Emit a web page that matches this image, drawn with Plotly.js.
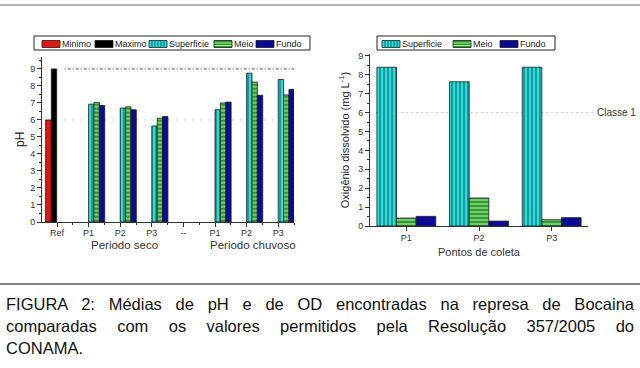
<!DOCTYPE html>
<html>
<head>
<meta charset="utf-8">
<script src="https://cdn.plot.ly/plotly-3.0.1.min.js"></script>
<style>
  html, body { margin: 0; padding: 0; background: #fff; }
  #wrap { position: relative; width: 640px; height: 368px; overflow: hidden; }
  #chart { position: absolute; left: 0; top: 0; width: 640px; height: 368px; }
  .cap { position: absolute; left: 6px; width: 628px;
         font-family: "Liberation Sans", Arial, sans-serif; font-size: 16.5px; line-height: 20px; color: #111; white-space: nowrap; }
  .just { text-align: justify; text-align-last: justify; white-space: normal; }
</style>
</head>
<body>
<div id="wrap">
  <div id="chart"></div>
  <div class="cap just" style="top:294px;">FIGURA 2: Médias de pH e de OD encontradas na represa de Bocaina</div>
  <div class="cap just" style="top:316px;">comparadas com os valores permitidos pela Resolução 357/2005 do</div>
  <div class="cap" style="top:338px;">CONAMA.</div>
</div>
<script>
// ---- Data: pH (left panel) ----
const phCategories = ['Ref', 'P1', 'P2', 'P3', '--', 'P1', 'P2', 'P3'];
const phMinimo     = [6, null, null, null, null, null, null, null];
const phMaximo     = [9, null, null, null, null, null, null, null];
const phSuperficie = [null, 6.93, 6.70, 5.65, null, 6.60, 8.75, 8.38];
const phMeio       = [null, 7.03, 6.77, 6.10, null, 7.00, 8.23, 7.47];
const phFundo      = [null, 6.85, 6.60, 6.20, null, 7.05, 7.45, 7.80];
const phLimits     = [6, 9];
const periodLabels = ['Periodo seco', 'Periodo chuvoso'];
const phSeriesNames = ['Minimo', 'Maximo', 'Superficie', 'Meio', 'Fundo'];

// ---- Data: Oxigênio dissolvido (right panel) ----
const odCategories = ['P1', 'P2', 'P3'];
const odSuperficie = [8.40, 7.63, 8.40];
const odMeio       = [0.42, 1.48, 0.33];
const odFundo      = [0.51, 0.26, 0.44];
const odClasse1    = 6;
const odSeriesNames = ['Superficie', 'Meio', 'Fundo'];

const phX = phCategories.map((_, i) => i);

const FONT = 'Liberation Sans, Arial, sans-serif';
const outline = { color: '#1a1a1a', width: 0.8 };
const STYLE = {
  Minimo:     { color: '#e51515' },
  Maximo:     { color: '#000000' },
  Superficie: { color: '#27dede', stripe: 'v', stripeColor: '#176b6b',
                pattern: { shape: '|', bgcolor: '#27dede', fgcolor: '#176b6b', size: 4, solidity: 0.3, fillmode: 'replace' } },
  Meio:       { color: '#2f9a32', stripe: 'h', stripeColor: '#a6ef8f',
                pattern: { shape: '-', bgcolor: '#2f9a32', fgcolor: '#a6ef8f', size: 4, solidity: 0.3, fillmode: 'replace' } },
  Fundo:      { color: '#0b0b98' }
};
function mk(name) {
  const s = STYLE[name];
  const m = { color: s.color, line: outline };
  if (s.pattern) m.pattern = s.pattern;
  return m;
}
const W = 0.17;
const phValues = { Minimo: phMinimo, Maximo: phMaximo, Superficie: phSuperficie, Meio: phMeio, Fundo: phFundo };
const phOffsets = { Minimo: [-0.36, 0.18], Maximo: [-0.18, W], Superficie: [0, W], Meio: [W, W], Fundo: [2 * W, W] };
const odValues = { Superficie: odSuperficie, Meio: odMeio, Fundo: odFundo };

const traces = [];
phSeriesNames.forEach(n => traces.push({
  type: 'bar', name: n, x: phX, y: phValues[n], xaxis: 'x', yaxis: 'y',
  offset: phOffsets[n][0], width: phOffsets[n][1], marker: mk(n), showlegend: false
}));
odSeriesNames.forEach(n => traces.push({
  type: 'bar', name: n, x: odCategories, y: odValues[n], xaxis: 'x2', yaxis: 'y2',
  marker: mk(n), showlegend: false
}));

const px = v => v / 640;
const py = v => (368 - v) / 368;

// ---- Manual framed legends (Origin style) ----
const shapes = [];
const annotations = [];
function legendBox(box, items) {
  shapes.push({ type: 'rect', xref: 'paper', yref: 'paper', x0: px(box[0]), x1: px(box[1]), y0: py(box[2]), y1: py(box[3]),
                line: { color: '#222', width: 1 }, fillcolor: '#fff', layer: 'above' });
  items.forEach(it => {
    const s = STYLE[it.name];
    const sx0 = it.sw, sx1 = it.sw + 18, sy0 = 40.5, sy1 = 47.5;
    shapes.push({ type: 'rect', xref: 'paper', yref: 'paper', x0: px(sx0), x1: px(sx1), y0: py(sy1), y1: py(sy0),
                  line: { color: '#1a1a1a', width: 0.8 }, fillcolor: s.color, layer: 'above' });
    if (s.stripe === 'v') {
      for (let xx = sx0 + 3; xx < sx1 - 1; xx += 3) {
        shapes.push({ type: 'line', xref: 'paper', yref: 'paper', x0: px(xx), x1: px(xx), y0: py(sy1), y1: py(sy0),
                      line: { color: s.stripeColor, width: 1 }, layer: 'above' });
      }
    } else if (s.stripe === 'h') {
      for (let yy = sy0 + 2.5; yy < sy1 - 1; yy += 2.5) {
        shapes.push({ type: 'line', xref: 'paper', yref: 'paper', x0: px(sx0 + 0.5), x1: px(sx1 - 0.5), y0: py(yy), y1: py(yy),
                      line: { color: s.stripeColor, width: 1 }, layer: 'above' });
      }
    }
    annotations.push({ text: it.name, xref: 'paper', yref: 'paper', x: px(sx1 + 0.5), y: py(43.5), xanchor: 'left', yanchor: 'middle',
                       showarrow: false, borderpad: 0, font: { family: FONT, size: 9, color: '#222' } });
  });
}
const leftSwatchX = [42, 95, 149, 214, 256];
legendBox([34, 310, 36, 50], phSeriesNames.map((n, i) => ({ name: n, sw: leftSwatchX[i] })));
const rightSwatchX = [382, 453, 500];
legendBox([377, 555, 36, 50], odSeriesNames.map((n, i) => ({ name: n, sw: rightSwatchX[i] })));

// ---- Frame lines & reference limits ----
shapes.push(
  { type: 'line', xref: 'paper', yref: 'paper', x0: 0, x1: 1, y0: py(5), y1: py(5), line: { color: '#9a9a9a', width: 1.5 } },
  { type: 'line', xref: 'paper', yref: 'paper', x0: 0, x1: 1, y0: py(284), y1: py(284), line: { color: '#555', width: 1.5 } },
  { type: 'line', xref: 'x domain', yref: 'y', x0: 0.09, x1: 1, y0: phLimits[1], y1: phLimits[1], layer: 'below',
    line: { color: '#444', width: 1, dash: '1px,2px,3px,2px' } },
  { type: 'line', xref: 'x domain', yref: 'y', x0: 0.09, x1: 1, y0: phLimits[0], y1: phLimits[0], layer: 'below',
    line: { color: '#aaa', width: 1, dash: '1px,7px' } },
  { type: 'line', xref: 'x2 domain', yref: 'y2', x0: 0.03, x1: 1.023, y0: odClasse1, y1: odClasse1, layer: 'below',
    line: { color: '#999', width: 1, dash: '1px,4px' } }
);
annotations.push(
  { text: periodLabels[0], xref: 'paper', yref: 'paper', x: px(124), y: py(245), xanchor: 'center', yanchor: 'middle',
    showarrow: false, font: { family: FONT, size: 11.5, color: '#333' } },
  { text: periodLabels[1], xref: 'paper', yref: 'paper', x: px(253), y: py(245), xanchor: 'center', yanchor: 'middle',
    showarrow: false, font: { family: FONT, size: 11.5, color: '#333' } },
  { text: 'Classe 1', xref: 'paper', yref: 'y2', x: px(595), y: odClasse1, xanchor: 'left', yanchor: 'middle',
    showarrow: false, font: { family: FONT, size: 10, color: '#333' } }
);

const axisCommon = {
  showline: true, linecolor: '#333', linewidth: 1, mirror: false,
  ticks: 'outside', ticklen: 4, tickcolor: '#333', tickwidth: 1,
  showgrid: false, zeroline: false,
  tickfont: { family: FONT, size: 9, color: '#333' }
};

const layout = {
  width: 640, height: 368,
  margin: { l: 0, r: 0, t: 0, b: 0 },
  paper_bgcolor: '#fff', plot_bgcolor: 'rgba(0,0,0,0)',
  showlegend: false,
  barmode: 'group', bargap: 0.19, bargroupgap: 0,
  font: { family: FONT, color: '#333' },
  xaxis: Object.assign({}, axisCommon, {
    domain: [px(42), px(294)], anchor: 'y',
    range: [-0.475, 7.5], tickmode: 'array', tickvals: phX, ticktext: phCategories,
    ticklabelstandoff: -2,
    minor: { dtick: 0.5, tick0: 0.5, ticks: 'outside', ticklen: 2, tickcolor: '#333' }
  }),
  yaxis: Object.assign({}, axisCommon, {
    domain: [py(222), py(56.7)], anchor: 'x',
    range: [0, 9.72], dtick: 1, tick0: 0,
    minor: { dtick: 0.5, ticks: 'outside', ticklen: 2, tickcolor: '#333' },
    title: { text: 'pH', font: { family: FONT, size: 12, color: '#222' }, standoff: 2 }
  }),
  xaxis2: Object.assign({}, axisCommon, {
    domain: [px(370), px(588)], anchor: 'y2',
    range: [-0.5, 2.5], ticklabelstandoff: -1,
    minor: { dtick: 0.5, ticks: 'outside', ticklen: 3, tickcolor: '#333' },
    title: { text: 'Pontos de coleta', font: { family: FONT, size: 11, color: '#333' }, standoff: 6 }
  }),
  yaxis2: Object.assign({}, axisCommon, {
    domain: [py(226), py(54)], anchor: 'x2',
    range: [0, 9.1], dtick: 1, tick0: 0,
    minor: { dtick: 0.5, ticks: 'outside', ticklen: 2, tickcolor: '#333' },
    title: { text: 'Oxigênio dissolvido (mg L<sup>-1</sup>)', font: { family: FONT, size: 11, color: '#222' }, standoff: 6 }
  }),
  shapes: shapes,
  annotations: annotations
};

Plotly.newPlot('chart', traces, layout, { staticPlot: true, displayModeBar: false });
</script>
</body>
</html>
